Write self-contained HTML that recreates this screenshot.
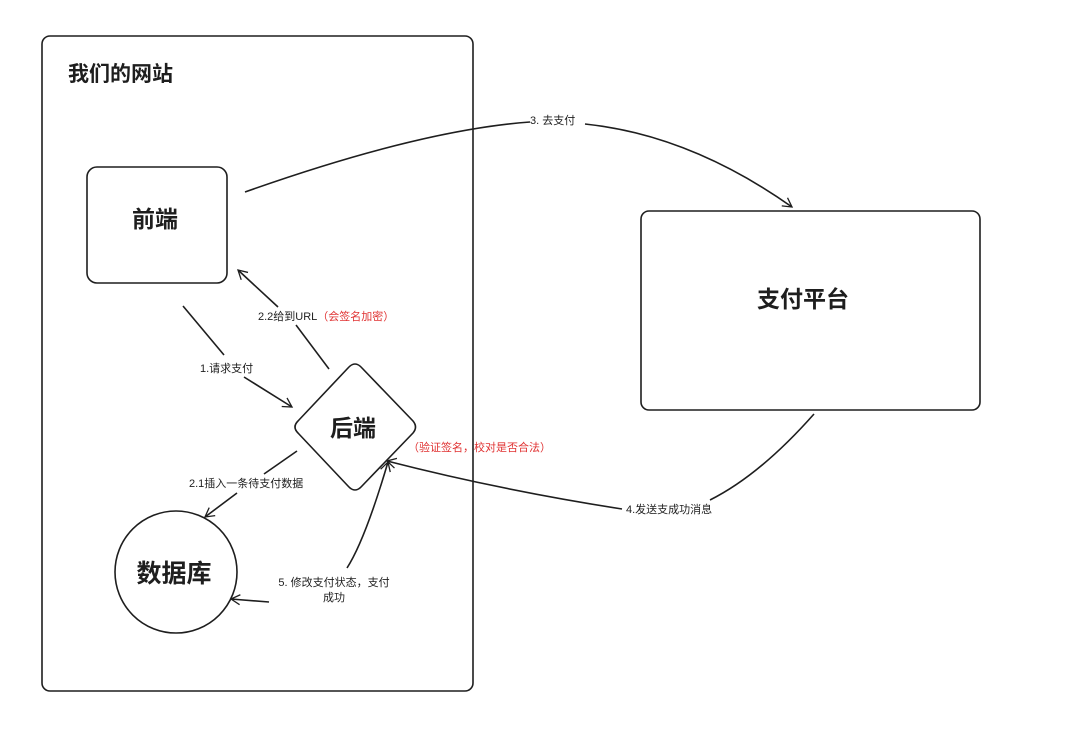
<!DOCTYPE html>
<html><head><meta charset="utf-8"><style>
body{margin:0;background:#fff}
svg{display:block}
text{font-family:"Liberation Sans","Noto Sans CJK SC",sans-serif;fill:#1e1e1e}
</style></head><body>
<svg width="1076" height="733" viewBox="0 0 1076 733" xmlns="http://www.w3.org/2000/svg">
<defs><marker id="a" markerWidth="12" markerHeight="12" refX="10" refY="6" orient="auto" markerUnits="userSpaceOnUse"><path d="M1,1 L10,6 L1,11" fill="none" stroke="#1e1e1e" stroke-width="1.3"/></marker></defs>
<g fill="none" stroke="#1e1e1e" stroke-width="1.6">
<rect x="42" y="36" width="431" height="655" rx="8"/>
<rect x="87" y="167" width="140" height="116" rx="10"/>
<rect x="641" y="211" width="339" height="199" rx="8"/>
<path d="M348,368 Q355,360 362,368 L413,421 Q418,427 413,433 L362,486 Q355,494 348,486 L298,433 Q292,427 298,421 Z"/>
<circle cx="176" cy="572" r="61"/>
<path d="M245,192 Q420,130 530,122" />
<path d="M585,124 Q690,135 792,207" marker-end="url(#a)"/>
<path d="M183,306 L224,355"/>
<path d="M244,377 L292,407" marker-end="url(#a)"/>
<path d="M329,369 L296,325"/>
<path d="M278,307 L238,270" marker-end="url(#a)"/>
<path d="M297,451 L264,474"/>
<path d="M237,493 L205,517" marker-end="url(#a)"/>
<path d="M814,414 Q760,475 710,500"/>
<path d="M622,509 Q500,490 387,461" marker-end="url(#a)"/>
<path d="M347,568 Q365,540 388,462" marker-end="url(#a)"/>
<path d="M269,602 L231,599" marker-end="url(#a)"/>
</g>
<text x="68" y="81" font-size="21" font-weight="bold">我们的网站</text>
<text x="155" y="227" font-size="23" font-weight="bold" text-anchor="middle">前端</text>
<text x="353" y="436" font-size="23" font-weight="bold" text-anchor="middle">后端</text>
<text x="174" y="582" font-size="25" font-weight="bold" text-anchor="middle">数据库</text>
<text x="803" y="307" font-size="23" font-weight="bold" text-anchor="middle">支付平台</text>
<text x="530" y="124" font-size="11">3. 去支付</text>
<text x="200" y="372" font-size="11">1.请求支付</text>
<text x="258" y="320" font-size="11">2.2给到URL<tspan style="fill:#e03131">（会签名加密）</tspan></text>
<text x="408" y="451" font-size="11" style="fill:#e03131">（验证签名，校对是否合法）</text>
<text x="189" y="487" font-size="11">2.1插入一条待支付数据</text>
<text x="626" y="513" font-size="11">4.发送支成功消息</text>
<text x="334" y="586" font-size="11" text-anchor="middle">5. 修改支付状态，支付</text>
<text x="334" y="601" font-size="11" text-anchor="middle">成功</text>
</svg>
</body></html>
